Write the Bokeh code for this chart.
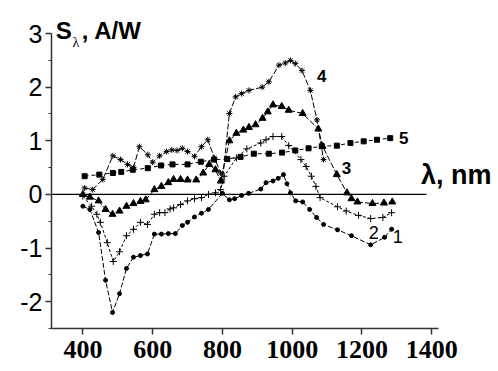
from bokeh.plotting import figure
from bokeh.models import FixedTicker, Label, CustomJSTickFormatter
from bokeh.embed import file_html
from bokeh.resources import INLINE

# ---- data ----
x1 = [400, 420, 445, 465, 485, 505, 525, 545, 565, 585, 605, 625, 645, 665, 685, 700, 720, 740, 760,
      800, 820, 835, 855, 875, 910, 925, 945, 960, 975, 985, 995, 1010, 1030, 1050, 1070, 1090, 1130,
      1170, 1225, 1265, 1285]
y1 = [-0.22, -0.28, -0.71, -1.6, -2.2, -1.85, -1.38, -1.17, -1.14, -1.11, -0.74, -0.74, -0.73, -0.73,
      -0.58, -0.52, -0.42, -0.35, -0.28, 0.02, -0.1, -0.08, -0.02, 0.02, 0.1, 0.22, 0.25, 0.3, 0.37,
      0.2, 0.03, -0.12, -0.14, -0.28, -0.43, -0.56, -0.66, -0.77, -0.94, -0.8, -0.65]

x2 = [400, 425, 440, 450, 470, 487, 505, 525, 545, 565, 585, 605, 620, 635, 650, 660, 680, 700, 720,
      740, 760, 780, 795, 805, 840, 870, 910, 925, 945, 970, 990, 1025, 1040, 1055, 1068, 1080, 1130,
      1155, 1190, 1225, 1260, 1285]
y2 = [-0.03, -0.22, -0.37, -0.52, -0.9, -1.25, -1.07, -0.77, -0.65, -0.52, -0.56, -0.37, -0.34, -0.34,
      -0.27, -0.25, -0.19, -0.12, -0.08, -0.06, 0.0, 0.03, 0.09, 0.34, 0.68, 0.85, 0.96, 1.02, 1.08,
      1.08, 0.91, 0.65, 0.52, 0.34, 0.15, -0.06, -0.23, -0.31, -0.39, -0.45, -0.43, -0.34]

x3 = [400, 420, 445, 465, 485, 505, 525, 545, 565, 580, 605, 625, 645, 660, 680, 700, 725, 745, 762,
      780, 795, 820, 840, 860, 876, 895, 915, 930, 945, 970, 990, 1030, 1075, 1087, 1128, 1157, 1170,
      1187, 1230, 1263, 1287]
y3 = [0.0, -0.05, -0.12, -0.28, -0.37, -0.31, -0.22, -0.17, -0.13, -0.1, 0.09, 0.15, 0.22, 0.28, 0.28,
      0.27, 0.27, 0.4, 0.56, 0.46, 0.25, 1.0, 1.14, 1.2, 1.25, 1.3, 1.42, 1.54, 1.67, 1.64, 1.57, 1.51,
      1.22, 0.9, 0.37, 0.03, -0.08, -0.14, -0.17, -0.16, -0.14]

x4 = [405, 428, 457, 486, 508, 528, 545, 562, 586, 600, 620, 640, 655, 670, 685, 700, 720, 740, 758,
      777, 795, 800, 820, 838, 855, 876, 914, 933, 962, 980, 995, 1009, 1028, 1052, 1071, 1090]
y4 = [0.12, 0.09, 0.28, 0.72, 0.65, 0.56, 0.5, 0.89, 0.74, 0.6, 0.72, 0.8, 0.83, 0.82, 0.86, 0.8, 0.71,
      0.89, 1.02, 0.68, 0.4, 0.25, 1.51, 1.82, 1.88, 1.94, 2.0, 2.1, 2.41, 2.45, 2.5, 2.44, 2.31, 1.94,
      1.39, 0.65]

x5 = [405, 447, 486, 510, 543, 586, 624, 657, 700, 738, 776, 814, 852, 890, 933, 971, 1009, 1047, 1085,
      1128, 1167, 1205, 1243, 1281]
y5 = [0.34, 0.37, 0.4, 0.42, 0.46, 0.49, 0.54, 0.56, 0.56, 0.61, 0.65, 0.66, 0.7, 0.76, 0.76, 0.78, 0.82,
      0.86, 0.9, 0.91, 0.96, 0.99, 1.02, 1.05]

x_ticks = [400, 600, 800, 1000, 1200, 1400]
y_ticks = [-2, -1, 0, 1, 2, 3]
y_minor = [-2.5, -1.5, -0.5, 0.5, 1.5, 2.5]
x_axis_bounds = (310, 1420)
y_axis_bounds = (-2.5, 3)

curve_labels = ["1", "2", "3", "4", "5"]
curve_label_x = [1303, 1234, 1156, 1085, 1320]
curve_label_y = [-0.78, -0.71, 0.49, 2.2, 1.06]

zero_line_x = [310, 1385]
zero_line_y = [0, 0]

# ---- figure ----
p = figure(width=498, height=371, x_range=(310, 1580), y_range=(-2.5, 3.43),
           output_backend="svg", toolbar_location=None,
           min_border_left=51, min_border_right=4, min_border_top=10, min_border_bottom=43)
p.xgrid.visible = False
p.ygrid.visible = False
p.outline_line_color = None
p.background_fill_color = "white"
p.border_fill_color = "white"

p.xaxis.bounds = x_axis_bounds
p.xaxis.ticker = FixedTicker(ticks=x_ticks)
p.xaxis.minor_tick_line_color = None
p.xaxis.major_tick_in = 0
p.xaxis.major_tick_out = 6
p.xaxis.major_label_standoff = 6
p.xaxis.major_label_text_font = "Liberation Serif"
p.xaxis.major_label_text_font_style = "bold"
p.xaxis.major_label_text_font_size = "26px"
p.xaxis.major_label_text_color = "black"

p.yaxis.bounds = y_axis_bounds
p.yaxis.ticker = FixedTicker(ticks=y_ticks, minor_ticks=y_minor)
p.yaxis.formatter = CustomJSTickFormatter(code="return tick.toString();")
p.yaxis.major_tick_in = 0
p.yaxis.major_tick_out = 6
p.yaxis.minor_tick_in = 0
p.yaxis.minor_tick_out = 3
p.yaxis.major_label_standoff = 3
p.yaxis.major_label_text_font = "Liberation Sans"
p.yaxis.major_label_text_font_size = "25px"
p.yaxis.major_label_text_color = "black"
p.yaxis.minor_tick_line_color = "#333333"

for ax in (p.xaxis, p.yaxis):
    ax.axis_line_color = "#333333"
    ax.axis_line_width = 1.5
    ax.major_tick_line_color = "#333333"
    ax.major_tick_line_width = 1.5

p.line(zero_line_x, zero_line_y, line_color="black", line_width=1.3)

# curve 1: dots
p.line(x1, y1, line_color="black", line_width=1, line_dash="5 2")
p.scatter(x1, y1, marker="circle", size=4, color="black")
# curve 2: crosses
p.line(x2, y2, line_color="black", line_width=1, line_dash="3 2")
p.scatter(x2, y2, marker="cross", size=7, line_color="black", line_width=1)
# curve 3: triangles
p.line(x3, y3, line_color="black", line_width=1, line_dash="6 2")
p.scatter(x3, y3, marker="triangle", size=7, color="black")
# curve 4: asterisks
p.line(x4, y4, line_color="black", line_width=1, line_dash="6 2")
p.scatter(x4, y4, marker="asterisk", size=6, line_color="black", line_width=1)
# curve 5: squares
p.line(x5, y5, line_color="black", line_width=1, line_dash="4 3")
p.scatter(x5, y5, marker="square", size=5, color="black")

for t, lx, ly in zip(curve_labels, curve_label_x, curve_label_y):
    bold = t in ("3", "4", "5")
    p.add_layout(Label(x=lx, y=ly, text=t, text_font="Liberation Sans",
                       text_font_style="bold" if bold else "normal",
                       text_font_size="17px" if bold else "18px",
                       text_align="center", text_baseline="middle", text_color="black"))

# axis titles
p.add_layout(Label(x=322, y=3.06, text="S", text_font="Liberation Sans", text_font_style="bold",
                   text_font_size="24px", text_baseline="alphabetic", text_color="black"))
p.add_layout(Label(x=370, y=2.84, text="λ", text_font="Liberation Serif", text_font_style="normal",
                   text_font_size="14px", text_baseline="alphabetic", text_color="black"))
p.add_layout(Label(x=397, y=3.06, text=",  A/W", text_font="Liberation Sans", text_font_style="bold",
                   text_font_size="24px", text_baseline="alphabetic", text_color="black"))
p.add_layout(Label(x=1369, y=0.36, text="λ, nm", text_font="Liberation Sans", text_font_style="bold",
                   text_font_size="27px", text_baseline="alphabetic", text_color="black"))

open("out.html", "w").write(file_html(p, INLINE))
